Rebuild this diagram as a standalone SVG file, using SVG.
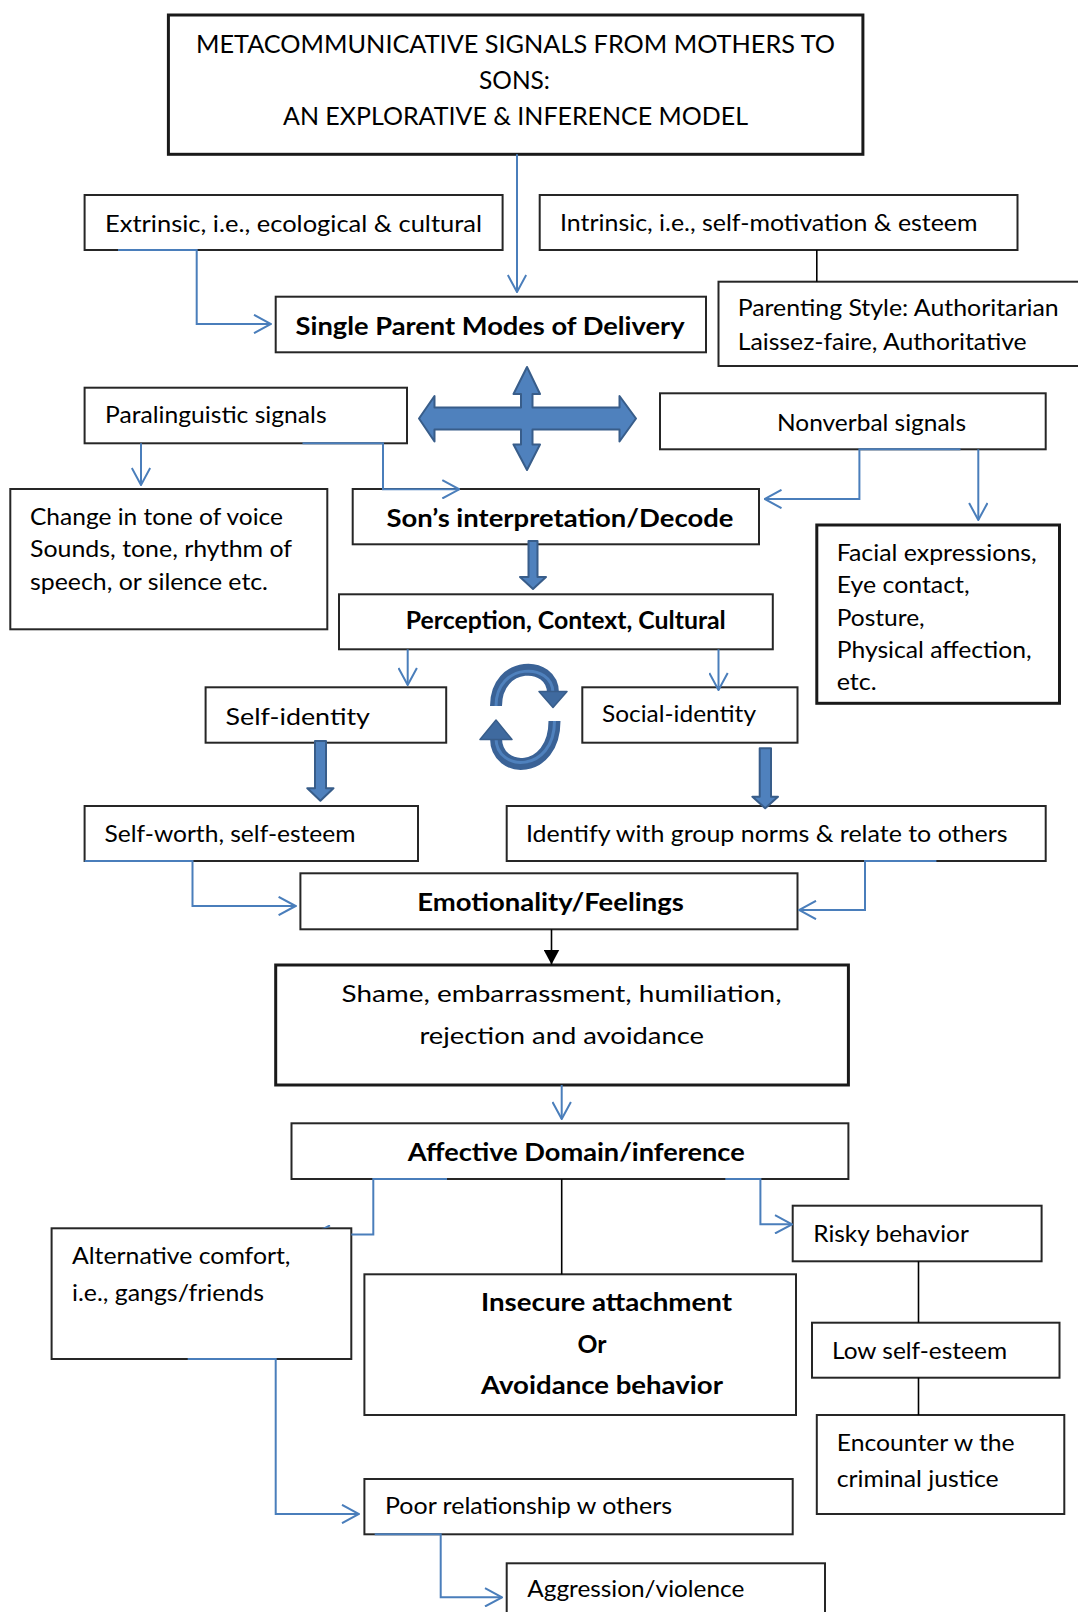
<svg xmlns="http://www.w3.org/2000/svg" width="1078" height="1612" viewBox="0 0 1078 1612">
  <style>
    .box { fill: #ffffff; stroke: #262626; stroke-width: 2; }
    .box-heavy { fill: #ffffff; stroke: #1a1a1a; stroke-width: 3; }
    text { font-family: "Lato", "Liberation Sans", sans-serif; font-size: 24px; fill: #000000; }
    .title { font-size: 25.5px; }
    .bold { font-weight: 700; font-size: 24.5px; }
    .link { fill: none; stroke: #4A7EBB; stroke-width: 2; }
    .plain { fill: none; stroke: #000000; stroke-width: 1.6; }
    .block { fill: #4F81BD; stroke: #385D8A; stroke-width: 2; stroke-linejoin: round; }
  </style>
  <defs>
    <marker id="open-arrow" viewBox="0 0 20 20" refX="19" refY="10" markerWidth="20" markerHeight="20" markerUnits="userSpaceOnUse" orient="auto">
      <path d="M2,0.8 L19,10 L2,19.2" fill="none" stroke="#4A7EBB" stroke-width="2"/>
    </marker>
    <marker id="solid-arrow" viewBox="0 0 16 16" refX="15" refY="8" markerWidth="16" markerHeight="16" markerUnits="userSpaceOnUse" orient="auto">
      <path d="M0,0 L15,8 L0,16 z" fill="#000000"/>
    </marker>
    <clipPath id="behind-alt">
      <path clip-rule="evenodd" d="M0,0 H1078 V1612 H0 z M51.6,1228.3 H351.3 V1359 H51.6 z"/>
    </clipPath>
  </defs>

  <!-- nodes -->
  <g id="title">
    <rect class="box-heavy" x="168.4" y="15" width="694.5" height="139.3" stroke-width="2.5"/>
    <text class="title" x="196" y="53" textLength="639" lengthAdjust="spacingAndGlyphs">METACOMMUNICATIVE SIGNALS FROM MOTHERS TO</text>
    <text class="title" x="479" y="89" textLength="71" lengthAdjust="spacingAndGlyphs">SONS:</text>
    <text class="title" x="283" y="125" textLength="465" lengthAdjust="spacingAndGlyphs">AN EXPLORATIVE &amp; INFERENCE MODEL</text>
  </g>
  <g id="extrinsic">
    <rect class="box" x="84.6" y="195" width="418" height="55"/>
    <text x="105" y="232" textLength="377" lengthAdjust="spacingAndGlyphs">Extrinsic, i.e., ecological &amp; cultural</text>
  </g>
  <g id="intrinsic">
    <rect class="box" x="539.7" y="195" width="477.8" height="55"/>
    <text x="560" y="231" textLength="417.5" lengthAdjust="spacingAndGlyphs">Intrinsic, i.e., self-motivation &amp; esteem</text>
  </g>
  <g id="single-parent">
    <rect class="box" x="275.7" y="296.7" width="430.3" height="55.6"/>
    <text class="bold" x="295.6" y="334.5" textLength="389" lengthAdjust="spacingAndGlyphs">Single Parent Modes of Delivery</text>
  </g>
  <g id="parenting-style">
    <rect class="box" x="718.5" y="281.7" width="362" height="84.3"/>
    <text x="737.7" y="316" textLength="321" lengthAdjust="spacingAndGlyphs">Parenting Style: Authoritarian</text>
    <text x="737.7" y="350" textLength="289" lengthAdjust="spacingAndGlyphs">Laissez-faire, Authoritative</text>
  </g>
  <g id="paralinguistic">
    <rect class="box" x="84.6" y="387.7" width="322.4" height="55.6"/>
    <text x="105" y="423" textLength="221.6" lengthAdjust="spacingAndGlyphs">Paralinguistic signals</text>
  </g>
  <g id="nonverbal">
    <rect class="box" x="660" y="393.3" width="385.7" height="56"/>
    <text x="777" y="430.5" textLength="189" lengthAdjust="spacingAndGlyphs">Nonverbal signals</text>
  </g>
  <g id="tone-change">
    <rect class="box" x="10.3" y="489" width="317" height="140.3"/>
    <text x="30" y="524.5" textLength="253" lengthAdjust="spacingAndGlyphs">Change in tone of voice</text>
    <text x="30" y="557" textLength="262" lengthAdjust="spacingAndGlyphs">Sounds, tone, rhythm of</text>
    <text x="30" y="589.5" textLength="238" lengthAdjust="spacingAndGlyphs">speech, or silence etc.</text>
  </g>
  <g id="decode">
    <rect class="box" x="352.7" y="489" width="406.3" height="55.3"/>
    <text class="bold" x="386.4" y="527" textLength="347" lengthAdjust="spacingAndGlyphs">Son’s interpretation/Decode</text>
  </g>
  <g id="nonverbal-cues">
    <rect class="box-heavy" x="816.8" y="525" width="242.7" height="178.3" stroke-width="2.5"/>
    <text x="836.7" y="560.5" textLength="200" lengthAdjust="spacingAndGlyphs">Facial expressions,</text>
    <text x="836.7" y="593" textLength="133" lengthAdjust="spacingAndGlyphs">Eye contact,</text>
    <text x="836.7" y="625.5" textLength="88" lengthAdjust="spacingAndGlyphs">Posture,</text>
    <text x="836.7" y="658" textLength="195" lengthAdjust="spacingAndGlyphs">Physical affection,</text>
    <text x="836.7" y="690" textLength="40" lengthAdjust="spacingAndGlyphs">etc.</text>
  </g>
  <g id="perception">
    <rect class="box" x="339" y="594.3" width="433.8" height="55"/>
    <text class="bold" x="405.8" y="629" textLength="320" lengthAdjust="spacingAndGlyphs">Perception, Context, Cultural</text>
  </g>
  <g id="self-identity">
    <rect class="box" x="205.6" y="687.3" width="240.6" height="55.4"/>
    <text x="225.5" y="724.5" font-size="26" textLength="144.4" lengthAdjust="spacingAndGlyphs">Self-identity</text>
  </g>
  <g id="social-identity">
    <rect class="box" x="582.3" y="687.3" width="215.2" height="55.4"/>
    <text x="602" y="722" textLength="154" lengthAdjust="spacingAndGlyphs">Social-identity</text>
  </g>
  <g id="self-worth">
    <rect class="box" x="84.6" y="806" width="333.4" height="55"/>
    <text x="104.5" y="842" textLength="251" lengthAdjust="spacingAndGlyphs">Self-worth, self-esteem</text>
  </g>
  <g id="group-norms">
    <rect class="box" x="506.7" y="806" width="539" height="55"/>
    <text x="526" y="842" textLength="481.5" lengthAdjust="spacingAndGlyphs">Identify with group norms &amp; relate to others</text>
  </g>
  <g id="emotionality">
    <rect class="box" x="300.4" y="873.3" width="497.1" height="56"/>
    <text class="bold" x="417.3" y="910.5" textLength="266.5" lengthAdjust="spacingAndGlyphs">Emotionality/Feelings</text>
  </g>
  <g id="shame">
    <rect class="box-heavy" x="275.7" y="965" width="572.7" height="120"/>
    <text x="341.5" y="1002" textLength="440" lengthAdjust="spacingAndGlyphs">Shame, embarrassment, humiliation,</text>
    <text x="419.4" y="1043.5" textLength="284.6" lengthAdjust="spacingAndGlyphs">rejection and avoidance</text>
  </g>
  <g id="affective-domain">
    <rect class="box" x="291.5" y="1123.3" width="556.9" height="55.7"/>
    <text class="bold" x="407.7" y="1160.5" textLength="337" lengthAdjust="spacingAndGlyphs">Affective Domain/inference</text>
  </g>
  <g id="risky-behavior">
    <rect class="box" x="792.7" y="1205.7" width="248.9" height="55.6"/>
    <text x="813.3" y="1242" textLength="155.5" lengthAdjust="spacingAndGlyphs">Risky behavior</text>
  </g>
  <g id="alternative-comfort">
    <rect class="box" x="51.6" y="1228.3" width="299.7" height="130.7"/>
    <text x="72" y="1263.8" textLength="218.5" lengthAdjust="spacingAndGlyphs">Alternative comfort,</text>
    <text x="72" y="1300.5" textLength="192" lengthAdjust="spacingAndGlyphs">i.e., gangs/friends</text>
  </g>
  <g id="insecure-attachment">
    <rect class="box" x="364.4" y="1274.3" width="431.6" height="140.7"/>
    <text class="bold" x="481" y="1311" textLength="251" lengthAdjust="spacingAndGlyphs">Insecure attachment</text>
    <text class="bold" x="577.5" y="1353" textLength="29" lengthAdjust="spacingAndGlyphs">Or</text>
    <text class="bold" x="481" y="1393.8" textLength="242" lengthAdjust="spacingAndGlyphs">Avoidance behavior</text>
  </g>
  <g id="low-self-esteem">
    <rect class="box" x="812" y="1322.7" width="247.5" height="55"/>
    <text x="832" y="1358.8" textLength="175" lengthAdjust="spacingAndGlyphs">Low self-esteem</text>
  </g>
  <g id="criminal-justice">
    <rect class="box" x="816.8" y="1415" width="247.5" height="99"/>
    <text x="836.7" y="1450.5" textLength="178" lengthAdjust="spacingAndGlyphs">Encounter w the</text>
    <text x="836.7" y="1487" textLength="162" lengthAdjust="spacingAndGlyphs">criminal justice</text>
  </g>
  <g id="poor-relationship">
    <rect class="box" x="364.4" y="1479" width="428.3" height="55.3"/>
    <text x="385" y="1513.8" textLength="287" lengthAdjust="spacingAndGlyphs">Poor relationship w others</text>
  </g>
  <g id="aggression">
    <rect class="box" x="506.7" y="1563.3" width="318.3" height="60"/>
    <text x="527.3" y="1597" textLength="217" lengthAdjust="spacingAndGlyphs">Aggression/violence</text>
  </g>

  <!-- connectors -->
  <g id="connectors">
    <!-- thin blue elbow links -->
    <path class="link" d="M517,154.3 V292" marker-end="url(#open-arrow)"/>
    <path class="link" d="M118,250 H196.7 V324 H271" marker-end="url(#open-arrow)"/>
    <path class="link" d="M141,443.3 V485" marker-end="url(#open-arrow)"/>
    <path class="link" d="M302.5,443.3 H383 V489.3 H459.3" marker-end="url(#open-arrow)"/>
    <path class="link" d="M960.5,449.3 H859.4 V499 H764.5" marker-end="url(#open-arrow)"/>
    <path class="link" d="M978.3,449.3 V520" marker-end="url(#open-arrow)"/>
    <path class="link" d="M407.7,649.3 V685" marker-end="url(#open-arrow)"/>
    <path class="link" d="M718.5,649.3 V690" marker-end="url(#open-arrow)"/>
    <path class="link" d="M84.6,861 H192.5 V906 H295.6" marker-end="url(#open-arrow)"/>
    <path class="link" d="M936.4,861 H865 V910 H799" marker-end="url(#open-arrow)"/>
    <path class="link" d="M561.7,1085 V1119" marker-end="url(#open-arrow)"/>
    <path class="link" d="M447,1179 H373.3 V1234.5 H313" marker-end="url(#open-arrow)" clip-path="url(#behind-alt)"/>
    <path class="link" d="M725.3,1179 H760.4 V1224.3 H792" marker-end="url(#open-arrow)"/>
    <path class="link" d="M187.7,1359 H275.7 V1514 H359" marker-end="url(#open-arrow)"/>
    <path class="link" d="M374.7,1534.3 H440.7 V1597.3 H502" marker-end="url(#open-arrow)"/>

    <!-- plain black links -->
    <path class="plain" d="M816.8,250 V281.7"/>
    <path class="plain" d="M551.5,929.3 V964.5" marker-end="url(#solid-arrow)"/>
    <path class="plain" d="M561.7,1179 V1274.3"/>
    <path class="plain" d="M918.5,1261.3 V1322.7"/>
    <path class="plain" d="M918.5,1377.7 V1415"/>

    <!-- four-way block arrow -->
    <path class="block" stroke-width="4.5" d="M527,367 L540,394 L532.5,394 L532.5,407.5 L619.5,407.5 L619.5,396 L636,418.5 L619.5,441.5 L619.5,429.5 L532.5,429.5 L532.5,444.5 L540,444.5 L527,470 L513.5,444.5 L521,444.5 L521,429.5 L434.5,429.5 L434.5,441.5 L419,418.5 L434.5,396 L434.5,407.5 L521,407.5 L521,394 L513.5,394 z"/>

    <!-- block down arrows -->
    <path class="block" d="M528.5,541 H537.5 V577 H546 L533,589 L520,577 H528.5 z"/>
    <path class="block" d="M315,741 H326 V788.3 H333.5 L320.4,800.7 L307.3,788.3 H315 z"/>
    <path class="block" d="M759.7,748.3 H771 V796.7 H778 L765.2,808.3 L752.4,796.7 H759.7 z"/>

    <!-- circular arrows between the identities -->
    <g id="cycle">
      <path d="M496,706 C496,660 553,660 553,693" fill="none" stroke="#3A6296" stroke-width="12"/>
      <path d="M496,706 C496,662 553,662 553,693" fill="none" stroke="#4F81BD" stroke-width="3"/>
      <path d="M539,691.5 L567,691.5 L553,707.5 z" fill="#3F6A9F" stroke="#385D8A" stroke-width="1.5" stroke-linejoin="round"/>
      <path d="M554.5,721 C554.5,775 496,775 496,738" fill="none" stroke="#3A6296" stroke-width="12"/>
      <path d="M554.5,721 C554.5,773 496,773 496,738" fill="none" stroke="#4F81BD" stroke-width="3"/>
      <path d="M480,739.5 L512,739.5 L496,720 z" fill="#3F6A9F" stroke="#385D8A" stroke-width="1.5" stroke-linejoin="round"/>
    </g>
  </g>
</svg>
